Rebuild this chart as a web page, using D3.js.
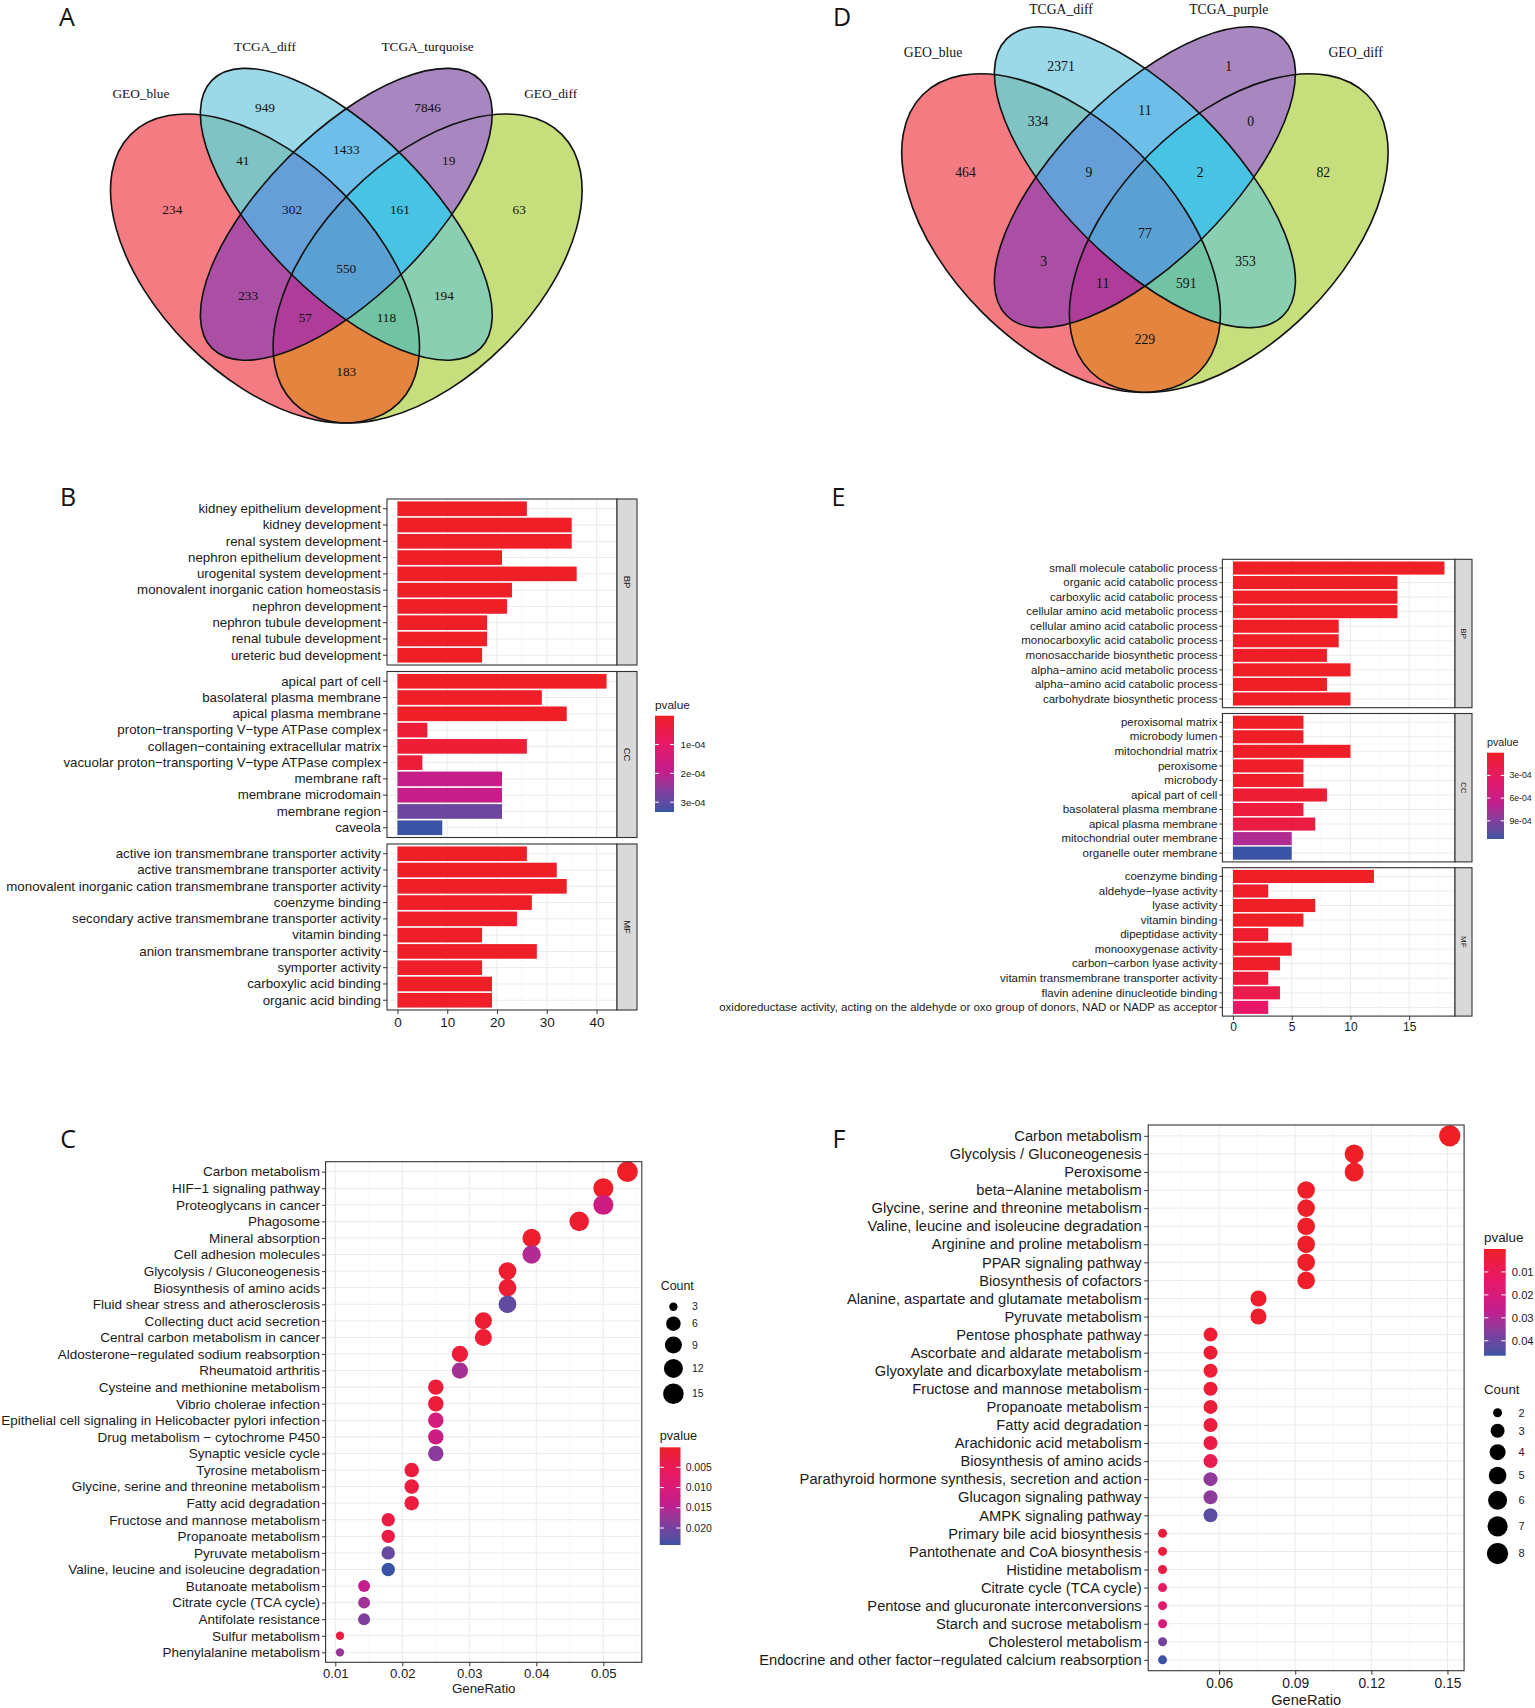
<!DOCTYPE html>
<html><head><meta charset="utf-8">
<script src="https://cdn.jsdelivr.net/npm/d3@7"></script>
<style>body{margin:0;background:#fff} svg{display:block}</style>
</head><body><svg id="fig" width="1535" height="1708"></svg>
<script>
// ---------------- DATA ----------------
// Venn A
const vennA_sets = ["GEO_blue", "TCGA_diff", "TCGA_turquoise", "GEO_diff"];
// region masks (bit0=set1 ... bit3=set4)
const venn_masks = [1, 2, 4, 8, 3, 5, 9, 6, 10, 12, 7, 11, 13, 14, 15];
const vennA_counts = [234, 949, 7846, 63, 41, 233, 183, 1433, 194, 19, 302, 118, 57, 161, 550];
// Venn D
const vennD_sets = ["GEO_blue", "TCGA_diff", "TCGA_purple", "GEO_diff"];
const vennD_counts = [464, 2371, 1, 82, 334, 3, 229, 11, 353, 0, 9, 591, 11, 2, 77];

// Panel B (GO, counts & p-values)
const B_BP_terms = ["kidney epithelium development","kidney development","renal system development","nephron epithelium development","urogenital system development","monovalent inorganic cation homeostasis","nephron development","nephron tubule development","renal tubule development","ureteric bud development"];
const B_BP_count = [26, 35, 35, 21, 36, 23, 22, 18, 18, 17];
const B_BP_p = [2.4e-9, 5.1e-13, 7.7e-13, 3.2e-9, 1.4e-12, 8.6e-8, 6.1e-9, 4.4e-8, 5.9e-8, 1.3e-7];
const B_CC_terms = ["apical part of cell","basolateral plasma membrane","apical plasma membrane","proton\u2212transporting V\u2212type ATPase complex","collagen\u2212containing extracellular matrix","vacuolar proton\u2212transporting V\u2212type ATPase complex","membrane raft","membrane microdomain","membrane region","caveola"];
const B_CC_count = [42, 29, 34, 6, 26, 5, 21, 21, 21, 9];
const B_CC_p = [3.5e-10, 2.6e-9, 1.1e-9, 2.3e-5, 2.0e-5, 2.5e-5, 1.84e-4, 1.86e-4, 2.87e-4, 3.34e-4];
const B_MF_terms = ["active ion transmembrane transporter activity","active transmembrane transporter activity","monovalent inorganic cation transmembrane transporter activity","coenzyme binding","secondary active transmembrane transporter activity","vitamin binding","anion transmembrane transporter activity","symporter activity","carboxylic acid binding","organic acid binding"];
const B_MF_count = [26, 32, 34, 27, 24, 17, 28, 17, 19, 19];
const B_MF_p = [1.6e-6, 3.8e-7, 4.5e-8, 7.9e-7, 5.2e-6, 2.9e-6, 3.6e-6, 5.8e-6, 4.1e-6, 4.4e-6];
const B_xticks = [0, 10, 20, 30, 40];
const B_pbreaks = [1e-4, 2e-4, 3e-4];
const B_plabels = ["1e-04", "2e-04", "3e-04"];

// Panel E
const E_BP_terms = ["small molecule catabolic process","organic acid catabolic process","carboxylic acid catabolic process","cellular amino acid metabolic process","cellular amino acid catabolic process","monocarboxylic acid catabolic process","monosaccharide biosynthetic process","alpha\u2212amino acid metabolic process","alpha\u2212amino acid catabolic process","carbohydrate biosynthetic process"];
const E_BP_count = [18, 14, 14, 14, 9, 9, 8, 10, 8, 10];
const E_BP_p = [1.2e-9, 3.1e-8, 3.1e-8, 5.4e-8, 2.2e-7, 3.0e-7, 6.5e-7, 1.1e-6, 9.2e-7, 1.5e-6];
const E_CC_terms = ["peroxisomal matrix","microbody lumen","mitochondrial matrix","peroxisome","microbody","apical part of cell","basolateral plasma membrane","apical plasma membrane","mitochondrial outer membrane","organelle outer membrane"];
const E_CC_count = [6, 6, 10, 6, 6, 8, 6, 7, 5, 5];
const E_CC_p = [1.3e-6, 1.3e-6, 4.8e-7, 2.1e-5, 2.1e-5, 5.7e-5, 1.14e-4, 1.37e-4, 7.4e-4, 1.14e-3];
const E_MF_terms = ["coenzyme binding","aldehyde\u2212lyase activity","lyase activity","vitamin binding","dipeptidase activity","monooxygenase activity","carbon\u2212carbon lyase activity","vitamin transmembrane transporter activity","flavin adenine dinucleotide binding","oxidoreductase activity, acting on the aldehyde or oxo group of donors, NAD or NADP as acceptor"];
const E_MF_count = [12, 3, 7, 6, 3, 5, 4, 3, 4, 3];
const E_MF_p = [2.9e-8, 2.2e-5, 1.1e-6, 1.6e-6, 4.1e-5, 1.2e-5, 1.6e-5, 1.0e-4, 1.9e-4, 3.2e-4];
const E_xticks = [0, 5, 10, 15];
const E_pbreaks = [3e-4, 6e-4, 9e-4];
const E_plabels = ["3e-04", "6e-04", "9e-04"];

// Panel C (KEGG)
const C_terms = ["Carbon metabolism","HIF\u22121 signaling pathway","Proteoglycans in cancer","Phagosome","Mineral absorption","Cell adhesion molecules","Glycolysis / Gluconeogenesis","Biosynthesis of amino acids","Fluid shear stress and atherosclerosis","Collecting duct acid secretion","Central carbon metabolism in cancer","Aldosterone\u2212regulated sodium reabsorption","Rheumatoid arthritis","Cysteine and methionine metabolism","Vibrio cholerae infection","Epithelial cell signaling in Helicobacter pylori infection","Drug metabolism \u2212 cytochrome P450","Synaptic vesicle cycle","Tyrosine metabolism","Glycine, serine and threonine metabolism","Fatty acid degradation","Fructose and mannose metabolism","Propanoate metabolism","Pyruvate metabolism","Valine, leucine and isoleucine degradation","Butanoate metabolism","Citrate cycle (TCA cycle)","Antifolate resistance","Sulfur metabolism","Phenylalanine metabolism"];
const C_count = [15, 14, 14, 13, 11, 11, 10, 10, 10, 9, 9, 8, 8, 7, 7, 7, 7, 7, 6, 6, 6, 5, 5, 5, 5, 4, 4, 4, 3, 3];
const C_ratio = [0.0536, 0.0500, 0.0500, 0.0464, 0.0393, 0.0393, 0.0357, 0.0357, 0.0357, 0.0321, 0.0321, 0.0286, 0.0286, 0.0250, 0.0250, 0.0250, 0.0250, 0.0250, 0.0214, 0.0214, 0.0214, 0.0179, 0.0179, 0.0179, 0.0179, 0.0143, 0.0143, 0.0143, 0.0107, 0.0107];
const C_p = [4.0e-5, 3.1e-4, 0.0121, 9.0e-4, 6.2e-4, 0.0155, 1.2e-3, 1.5e-3, 0.0218, 1.1e-3, 1.6e-3, 2.1e-3, 0.0165, 1.9e-3, 2.0e-3, 0.0109, 0.0121, 0.0184, 2.2e-3, 2.4e-3, 2.5e-3, 3.0e-3, 3.2e-3, 0.0213, 0.0242, 0.0138, 0.0169, 0.0194, 2.6e-3, 0.0177];
const C_xticks = [0.01, 0.02, 0.03, 0.04, 0.05];
const C_pbreaks = [0.005, 0.010, 0.015, 0.020];
const C_plabels = ["0.005", "0.010", "0.015", "0.020"];
const C_countLegend = [3, 6, 9, 12, 15];

// Panel F (KEGG)
const F_terms = ["Carbon metabolism","Glycolysis / Gluconeogenesis","Peroxisome","beta\u2212Alanine metabolism","Glycine, serine and threonine metabolism","Valine, leucine and isoleucine degradation","Arginine and proline metabolism","PPAR signaling pathway","Biosynthesis of cofactors","Alanine, aspartate and glutamate metabolism","Pyruvate metabolism","Pentose phosphate pathway","Ascorbate and aldarate metabolism","Glyoxylate and dicarboxylate metabolism","Fructose and mannose metabolism","Propanoate metabolism","Fatty acid degradation","Arachidonic acid metabolism","Biosynthesis of amino acids","Parathyroid hormone synthesis, secretion and action","Glucagon signaling pathway","AMPK signaling pathway","Primary bile acid biosynthesis","Pantothenate and CoA biosynthesis","Histidine metabolism","Citrate cycle (TCA cycle)","Pentose and glucuronate interconversions","Starch and sucrose metabolism","Cholesterol metabolism","Endocrine and other factor\u2212regulated calcium reabsorption"];
const F_count = [8, 6, 6, 5, 5, 5, 5, 5, 5, 4, 4, 3, 3, 3, 3, 3, 3, 3, 3, 3, 3, 3, 2, 2, 2, 2, 2, 2, 2, 2];
const F_ratio = [0.1509, 0.1132, 0.1132, 0.0943, 0.0943, 0.0943, 0.0943, 0.0943, 0.0943, 0.0755, 0.0755, 0.0566, 0.0566, 0.0566, 0.0566, 0.0566, 0.0566, 0.0566, 0.0566, 0.0566, 0.0566, 0.0566, 0.0377, 0.0377, 0.0377, 0.0377, 0.0377, 0.0377, 0.0377, 0.0377];
const F_p = [1.0e-5, 2.0e-4, 1.5e-4, 3.0e-4, 4.0e-4, 4.2e-4, 6.0e-4, 6.3e-4, 7.0e-4, 1.2e-3, 1.3e-3, 2.5e-3, 2.6e-3, 2.8e-3, 3.0e-3, 3.5e-3, 4.5e-3, 5.7e-3, 8.5e-3, 0.0349, 0.0352, 0.0424, 3.5e-3, 4.5e-3, 5.5e-3, 0.0113, 0.0155, 0.0188, 0.0386, 0.0465];
const F_xticks = [0.06, 0.09, 0.12, 0.15];
const F_pbreaks = [0.01, 0.02, 0.03, 0.04];
const F_plabels = ["0.01", "0.02", "0.03", "0.04"];
const F_countLegend = [2, 3, 4, 5, 6, 7, 8];

// ---------------- STYLE / LAYOUT ----------------
const FONT = '"Liberation Sans", Arial, Helvetica, sans-serif';
const SERIF = '"Liberation Serif", "Times New Roman", serif';
const TXT = '#1a1a1a';
const RAMP_T = [0, 0.3, 0.6, 0.8, 1];
const RAMP_C = ['#EE1F26', '#E6196A', '#BF1F8F', '#7D3F9E', '#3A53A4'];
const VENN_SHAPES = [
  {dx: -0.15, dy: 0.10, a: 0.35, b: 0.20, rot: 45},
  {dx: 0, dy: 0, a: 0.35, b: 0.15, rot: 45},
  {dx: 0, dy: 0, a: 0.35, b: 0.15, rot: -45},
  {dx: 0.15, dy: 0.10, a: 0.35, b: 0.20, rot: -45}];
const VENN_COL = {1:'#F47B82', 2:'#9BD8E8', 4:'#A886C0', 8:'#C6DE7B', 3:'#7FC3C4', 5:'#AA4FA3', 9:'#E5843E',
  6:'#6EBEEA', 10:'#8ACFB1', 12:'#A886C0', 7:'#669ED7', 11:'#71C3A4', 13:'#AE3C98', 14:'#49C3E4', 15:'#5AA0D3'};
const VENN_POS = {1:[-0.321,-0.009], 2:[-0.150,-0.198], 4:[0.150,-0.198], 8:[0.319,-0.009], 3:[-0.191,-0.0995],
  5:[-0.181,0.150], 9:[0,0.290], 6:[0,-0.119], 10:[0.180,0.150], 12:[0.189,-0.0995], 7:[-0.100,-0.009],
  11:[0.074,0.190], 13:[-0.0755,0.190], 14:[0.099,-0.009], 15:[0,0.100]};
const VENN_SETPOS = [[-0.379,-0.223],[-0.150,-0.309],[0.150,-0.309],[0.377,-0.223]];

const svg = d3.select('#fig');
svg.append('rect').attr('width', 1535).attr('height', 1708).attr('fill', '#fff');

function rampFor(pmin, pmax) {
  const t = d3.scaleLinear().domain([pmin, pmax]).range([0, 1]).clamp(true);
  const ramp = d3.scaleLinear().domain(RAMP_T).range(RAMP_C).interpolate(d3.interpolateLab);
  return {color: p => ramp(t(p)), ramp};
}

function panelLetter(txt, x, y) {
  svg.append('text').attr('x', x).attr('y', y).attr('dy', '0.35em').attr('text-anchor', 'middle')
    .attr('font-family', '"Open Sans", "Noto Sans", sans-serif').attr('font-size', 25).attr('fill', '#111').text(txt);
}

// ---------------- VENN ----------------
function popcount(m) { let c = 0; while (m) { c += m & 1; m >>= 1; } return c; }
function drawVenn(id, cx, cy, s, sets, counts, fs) {
  const g = svg.append('g');
  const E = VENN_SHAPES.map(e => ({cx: cx + e.dx * s, cy: cy + e.dy * s, rx: e.a * s, ry: e.b * s, rot: e.rot}));
  const defs = g.append('defs');
  E.forEach((e, i) => {
    defs.append('clipPath').attr('id', id + 'c' + i).append('ellipse')
      .attr('cx', e.cx).attr('cy', e.cy).attr('rx', e.rx).attr('ry', e.ry)
      .attr('transform', `rotate(${e.rot},${e.cx},${e.cy})`);
  });
  const order = venn_masks.slice().sort((a, b) => popcount(a) - popcount(b) || a - b);
  order.forEach(m => {
    const idx = [0, 1, 2, 3].filter(i => m & (1 << i));
    let node = g;
    idx.slice(1).forEach(i => { node = node.append('g').attr('clip-path', `url(#${id}c${i})`); });
    const e = E[idx[0]];
    node.append('ellipse').attr('cx', e.cx).attr('cy', e.cy).attr('rx', e.rx).attr('ry', e.ry)
      .attr('transform', `rotate(${e.rot},${e.cx},${e.cy})`).attr('fill', VENN_COL[m]);
  });
  g.selectAll('ellipse.outline').data(E).join('ellipse').attr('class', 'outline')
    .attr('cx', e => e.cx).attr('cy', e => e.cy).attr('rx', e => e.rx).attr('ry', e => e.ry)
    .attr('transform', e => `rotate(${e.rot},${e.cx},${e.cy})`)
    .attr('fill', 'none').attr('stroke', '#111').attr('stroke-width', 1.6);
  g.selectAll('text.cnt').data(venn_masks.map((m, i) => ({m, v: counts[i]}))).join('text').attr('class', 'cnt')
    .attr('x', d => cx + VENN_POS[d.m][0] * s).attr('y', d => cy + VENN_POS[d.m][1] * s).attr('dy', '0.35em')
    .attr('text-anchor', 'middle').attr('font-family', SERIF).attr('font-size', fs).attr('fill', '#111').text(d => d.v);
  g.selectAll('text.set').data(sets).join('text').attr('class', 'set')
    .attr('x', (d, i) => cx + VENN_SETPOS[i][0] * s)
    .attr('y', (d, i) => Math.max(cy + VENN_SETPOS[i][1] * s, 9)).attr('dy', '0.35em')
    .attr('text-anchor', 'middle').attr('font-family', SERIF).attr('font-size', fs).attr('fill', '#111').text(d => d);
}

// ---------------- COLORBAR ----------------
function colorbar(id, cfg, rp, pmin, pmax, breaks, labels) {
  const g = svg.append('g');
  const grad = g.append('defs').append('linearGradient').attr('id', id).attr('x1', 0).attr('y1', 0).attr('x2', 0).attr('y2', 1);
  d3.range(0, 21).forEach(i => grad.append('stop').attr('offset', i / 20).attr('stop-color', rp.ramp(i / 20)));
  g.append('text').attr('x', cfg.x).attr('y', cfg.y - 7).attr('font-family', FONT).attr('font-size', cfg.titleFont)
    .attr('fill', TXT).text('pvalue');
  g.append('rect').attr('x', cfg.x).attr('y', cfg.y).attr('width', cfg.w).attr('height', cfg.h).attr('fill', `url(#${id})`);
  const sc = d3.scaleLinear().domain([pmin, pmax]).range([cfg.y, cfg.y + cfg.h]);
  breaks.forEach((b, i) => {
    const yy = sc(b);
    g.append('line').attr('x1', cfg.x).attr('x2', cfg.x + cfg.w / 5).attr('y1', yy).attr('y2', yy).attr('stroke', '#fff').attr('stroke-width', 1);
    g.append('line').attr('x1', cfg.x + cfg.w * 4 / 5).attr('x2', cfg.x + cfg.w).attr('y1', yy).attr('y2', yy).attr('stroke', '#fff').attr('stroke-width', 1);
    g.append('text').attr('x', cfg.labelX).attr('y', yy).attr('dy', '0.35em').attr('font-family', FONT)
      .attr('font-size', cfg.labelFont).attr('fill', TXT).text(labels[i]);
  });
}

// ---------------- FACETED BAR ----------------
function barChart(id, cfg, facets, xticks, pbreaks, plabels, leg) {
  const g = svg.append('g');
  const allC = facets.flatMap(f => f.count), allP = facets.flatMap(f => f.p);
  const maxC = d3.max(allC);
  const x = d3.scaleLinear().domain([-0.05 * maxC, 1.05 * maxC]).range([cfg.x0, cfg.x1]);
  const rp = rampFor(d3.min(allP), d3.max(allP));
  const step = xticks[1] - xticks[0];
  const minor = xticks.map(v => v + step / 2).filter(v => v < x.domain()[1]);
  facets.forEach((f, i) => {
    const top = cfg.top + i * (cfg.panelH + cfg.gap), bot = top + cfg.panelH;
    const y = d3.scaleBand().domain(f.terms).range([top, bot]).paddingInner(0.1).paddingOuter(0.15);
    const pg = g.append('g');
    pg.append('rect').attr('x', cfg.x0).attr('y', top).attr('width', cfg.x1 - cfg.x0).attr('height', cfg.panelH).attr('fill', '#fff');
    pg.selectAll('line.mn').data(minor).join('line').attr('class', 'mn').attr('x1', d => x(d)).attr('x2', d => x(d))
      .attr('y1', top).attr('y2', bot).attr('stroke', '#F4F4F4').attr('stroke-width', 0.6);
    pg.selectAll('line.mj').data(xticks).join('line').attr('class', 'mj').attr('x1', d => x(d)).attr('x2', d => x(d))
      .attr('y1', top).attr('y2', bot).attr('stroke', '#EBEBEB').attr('stroke-width', 1);
    pg.selectAll('line.hz').data(f.terms).join('line').attr('class', 'hz').attr('x1', cfg.x0).attr('x2', cfg.x1)
      .attr('y1', d => y(d) + y.bandwidth() / 2).attr('y2', d => y(d) + y.bandwidth() / 2).attr('stroke', '#EBEBEB').attr('stroke-width', 1);
    const data = f.terms.map((t, j) => ({t, c: f.count[j], p: f.p[j]}));
    pg.selectAll('rect.bar').data(data).join('rect').attr('class', 'bar')
      .attr('x', x(0)).attr('y', d => y(d.t)).attr('width', d => x(d.c) - x(0)).attr('height', y.bandwidth())
      .attr('fill', d => rp.color(d.p));
    pg.append('rect').attr('x', cfg.x0).attr('y', top).attr('width', cfg.x1 - cfg.x0).attr('height', cfg.panelH)
      .attr('fill', 'none').attr('stroke', '#333').attr('stroke-width', 1.1);
    pg.append('rect').attr('x', cfg.x1).attr('y', top).attr('width', cfg.stripW).attr('height', cfg.panelH)
      .attr('fill', '#D9D9D9').attr('stroke', '#333').attr('stroke-width', 1.1);
    const sx = cfg.x1 + cfg.stripW / 2, sy = (top + bot) / 2;
    pg.append('text').attr('transform', `translate(${sx},${sy}) rotate(90)`).attr('text-anchor', 'middle').attr('dy', '0.35em')
      .attr('font-family', FONT).attr('font-size', cfg.stripFont).attr('fill', TXT).text(f.name);
    const ax = pg.append('g').attr('transform', `translate(${cfg.x0},0)`)
      .call(d3.axisLeft(y).tickSize(cfg.tickSize).tickPadding(cfg.tickPad));
    ax.select('.domain').remove();
    ax.attr('font-family', FONT).attr('font-size', cfg.labelFont);
    ax.selectAll('text').attr('fill', TXT);
    ax.selectAll('line').attr('stroke', '#333');
    if (i === facets.length - 1) {
      const bx = g.append('g').attr('transform', `translate(0,${bot})`)
        .call(d3.axisBottom(x).tickValues(xticks).tickSize(4).tickPadding(cfg.xPad));
      bx.select('.domain').remove();
      bx.attr('font-family', FONT).attr('font-size', cfg.xTickFont);
      bx.selectAll('text').attr('fill', TXT);
      bx.selectAll('line').attr('stroke', '#333');
    }
  });
  colorbar(id + 'grad', leg, rp, d3.min(allP), d3.max(allP), pbreaks, plabels);
}

// ---------------- DOT PLOT ----------------
function dotChart(id, cfg, terms, count, ratio, pv, xticks, pbreaks, plabels, countLeg, legP, legC) {
  const g = svg.append('g');
  const [lo, hi] = d3.extent(ratio);
  const pad = (hi - lo) * 0.05;
  const x = d3.scaleLinear().domain([lo - pad, hi + pad]).range([cfg.x0, cfg.x1]);
  const y = d3.scalePoint().domain(terms).range([cfg.top, cfg.bottom]).padding(0.6);
  const rp = rampFor(d3.min(pv), d3.max(pv));
  const cmin = d3.min(count), cmax = d3.max(count);
  const rad = c => cfg.r0 + (cfg.r1 - cfg.r0) * Math.sqrt((c - cmin) / (cmax - cmin));
  const step = xticks[1] - xticks[0];
  const minor = [xticks[0] - step / 2].concat(xticks.map(v => v + step / 2)).filter(v => v > x.domain()[0] && v < x.domain()[1]);
  g.append('rect').attr('x', cfg.x0).attr('y', cfg.top).attr('width', cfg.x1 - cfg.x0).attr('height', cfg.bottom - cfg.top).attr('fill', '#fff');
  g.selectAll('line.mn').data(minor).join('line').attr('class', 'mn').attr('x1', d => x(d)).attr('x2', d => x(d))
    .attr('y1', cfg.top).attr('y2', cfg.bottom).attr('stroke', '#F4F4F4').attr('stroke-width', 0.6);
  g.selectAll('line.mj').data(xticks).join('line').attr('class', 'mj').attr('x1', d => x(d)).attr('x2', d => x(d))
    .attr('y1', cfg.top).attr('y2', cfg.bottom).attr('stroke', '#EBEBEB').attr('stroke-width', 1);
  g.selectAll('line.hz').data(terms).join('line').attr('class', 'hz').attr('x1', cfg.x0).attr('x2', cfg.x1)
    .attr('y1', d => y(d)).attr('y2', d => y(d)).attr('stroke', '#EBEBEB').attr('stroke-width', 1);
  const data = terms.map((t, i) => ({t, c: count[i], r: ratio[i], p: pv[i]}));
  g.selectAll('circle.pt').data(data).join('circle').attr('class', 'pt')
    .attr('cx', d => x(d.r)).attr('cy', d => y(d.t)).attr('r', d => rad(d.c)).attr('fill', d => rp.color(d.p));
  g.append('rect').attr('x', cfg.x0).attr('y', cfg.top).attr('width', cfg.x1 - cfg.x0).attr('height', cfg.bottom - cfg.top)
    .attr('fill', 'none').attr('stroke', '#333').attr('stroke-width', 1.1);
  const ax = g.append('g').attr('transform', `translate(${cfg.x0},0)`).call(d3.axisLeft(y).tickSize(cfg.tickSize).tickPadding(cfg.tickPad));
  ax.select('.domain').remove();
  ax.attr('font-family', FONT).attr('font-size', cfg.labelFont);
  ax.selectAll('text').attr('fill', TXT);
  ax.selectAll('line').attr('stroke', '#333');
  const bx = g.append('g').attr('transform', `translate(0,${cfg.bottom})`)
    .call(d3.axisBottom(x).tickValues(xticks).tickFormat(d3.format('.2f')).tickSize(4).tickPadding(cfg.xPad));
  bx.select('.domain').remove();
  bx.attr('font-family', FONT).attr('font-size', cfg.xTickFont);
  bx.selectAll('text').attr('fill', TXT);
  bx.selectAll('line').attr('stroke', '#333');
  g.append('text').attr('x', (cfg.x0 + cfg.x1) / 2).attr('y', cfg.titleY).attr('text-anchor', 'middle')
    .attr('font-family', FONT).attr('font-size', cfg.titleFont).attr('fill', TXT).text('GeneRatio');
  colorbar(id + 'grad', legP, rp, d3.min(pv), d3.max(pv), pbreaks, plabels);
  // count legend
  const lg = svg.append('g');
  lg.append('text').attr('x', legC.titleX).attr('y', legC.titleY).attr('font-family', FONT).attr('font-size', legC.titleFont)
    .attr('fill', TXT).text('Count');
  let yy = legC.firstY;
  countLeg.forEach((c, i) => {
    if (i > 0) yy += rad(countLeg[i - 1]) + rad(c) + legC.gap;
    lg.append('circle').attr('cx', legC.dotX).attr('cy', yy).attr('r', rad(c)).attr('fill', '#000');
    lg.append('text').attr('x', legC.labelX).attr('y', yy).attr('dy', '0.35em').attr('font-family', FONT)
      .attr('font-size', legC.font).attr('fill', TXT).text(c);
  });
}

// ---------------- DRAW ----------------
panelLetter('A', 67, 17);
panelLetter('D', 842, 17);
panelLetter('B', 68, 497);
panelLetter('E', 838.5, 497);
panelLetter('C', 68, 1139);
panelLetter('F', 839, 1139);

drawVenn('vA', 346.3, 214.3, 542, vennA_sets, vennA_counts, 13.3);
drawVenn('vD', 1144.9, 177.2, 559, vennD_sets, vennD_counts, 13.7);

barChart('bB', {x0: 387, x1: 617, top: 499, panelH: 166, gap: 6.5, stripW: 20, labelFont: 13.3, tickSize: 4, tickPad: 2,
  stripFont: 9.5, xTickFont: 13.5, xPad: 3},
  [{name: 'BP', terms: B_BP_terms, count: B_BP_count, p: B_BP_p},
   {name: 'CC', terms: B_CC_terms, count: B_CC_count, p: B_CC_p},
   {name: 'MF', terms: B_MF_terms, count: B_MF_count, p: B_MF_p}],
  B_xticks, B_pbreaks, B_plabels,
  {x: 655, y: 715.7, w: 19, h: 96.3, labelX: 680.5, labelFont: 9.8, titleFont: 11.8});

barChart('bE', {x0: 1222.4, x1: 1455, top: 559.3, panelH: 148.4, gap: 5.8, stripW: 17, labelFont: 11.5, tickSize: 3, tickPad: 2,
  stripFont: 8, xTickFont: 12, xPad: 2.4},
  [{name: 'BP', terms: E_BP_terms, count: E_BP_count, p: E_BP_p},
   {name: 'CC', terms: E_CC_terms, count: E_CC_count, p: E_CC_p},
   {name: 'MF', terms: E_MF_terms, count: E_MF_count, p: E_MF_p}],
  E_xticks, E_pbreaks, E_plabels,
  {x: 1487, y: 752.7, w: 17, h: 86.3, labelX: 1509.4, labelFont: 8.7, titleFont: 10.7});

dotChart('dC', {x0: 325.6, x1: 641.8, top: 1161.7, bottom: 1662.3, labelFont: 13.5, tickSize: 3.5, tickPad: 2,
  xTickFont: 13.1, xPad: 2.4, titleFont: 13.3, titleY: 1693, r0: 4.2, r1: 10.3},
  C_terms, C_count, C_ratio, C_p, C_xticks, C_pbreaks, C_plabels, C_countLegend,
  {x: 659.7, y: 1447.3, w: 20.8, h: 97.7, labelX: 685.7, labelFont: 10.4, titleFont: 12.7},
  {titleX: 660.7, titleY: 1290.3, dotX: 673.4, firstY: 1306.7, gap: 5.5, labelX: 692, font: 10.4, titleFont: 12.4});

dotChart('dF', {x0: 1148.2, x1: 1464.1, top: 1125, bottom: 1670.7, labelFont: 14.7, tickSize: 4, tickPad: 2.5,
  xTickFont: 13.8, xPad: 3.8, titleFont: 14.6, titleY: 1705, r0: 4.5, r1: 10.6},
  F_terms, F_count, F_ratio, F_p, F_xticks, F_pbreaks, F_plabels, F_countLegend,
  {x: 1484, y: 1249, w: 21.7, h: 106.7, labelX: 1511.8, labelFont: 11.2, titleFont: 13.4},
  {titleX: 1484, titleY: 1393.6, dotX: 1497.6, firstY: 1412.7, gap: 6.5, labelX: 1518.4, font: 11, titleFont: 13.3});
</script></body></html>
